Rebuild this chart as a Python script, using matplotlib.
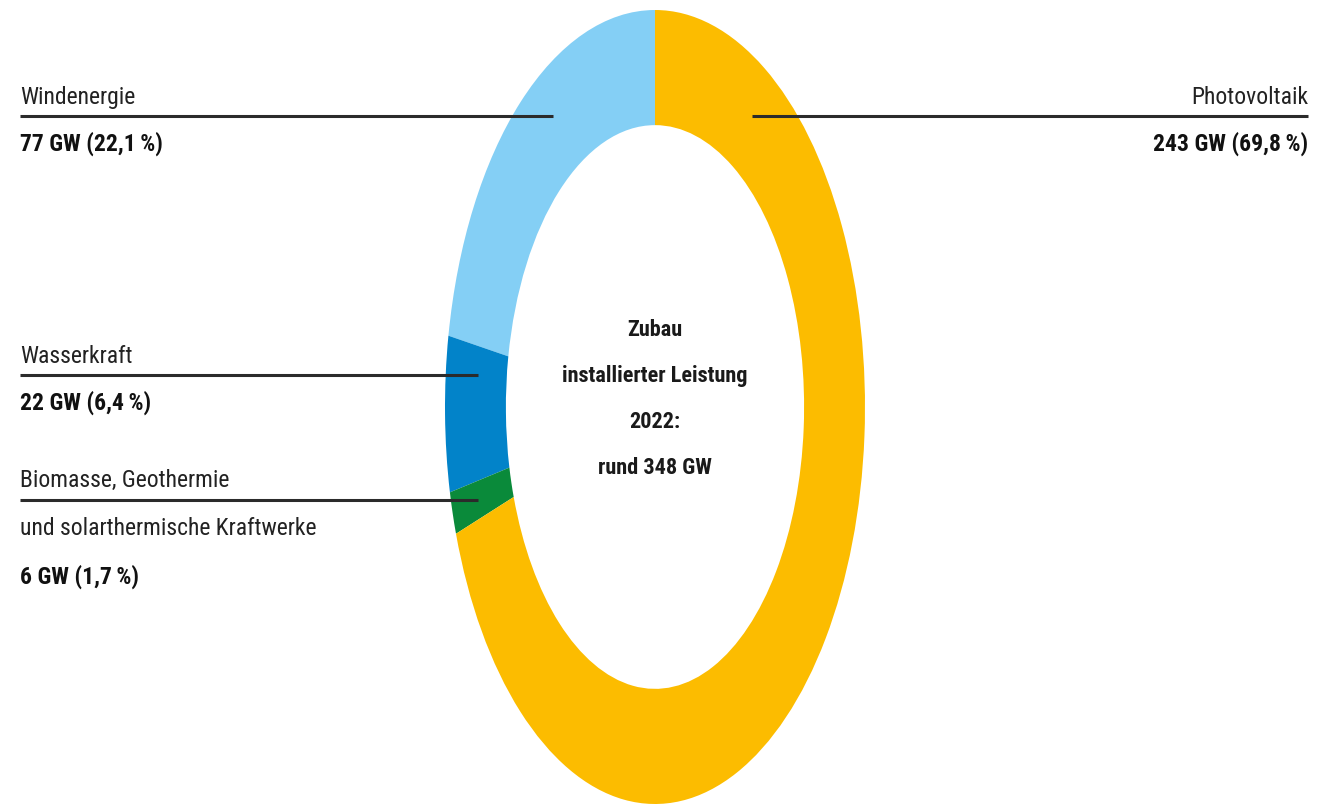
import matplotlib
matplotlib.use("Agg")
import matplotlib.pyplot as plt

# data
sources = ["Windenergie", "Wasserkraft",
           "Biomasse, Geothermie\nund solarthermische Kraftwerke", "Photovoltaik"]
gw = [77, 22, 6, 243]
shares = [22.1, 6.4, 1.7, 69.8]
colors = ["#84CFF5", "#0283C9", "#0A8A3A", "#FCBC00"]
total_text = "Zubau\ninstallierter Leistung\n2022:\nrund 348 GW"

plt.rcParams['font.family'] = ['Roboto Condensed', 'DejaVu Sans']

W, H = 1330, 805
fig = plt.figure(figsize=(W / 100, H / 100), dpi=100)

# donut (stretched vertically like the original)
ax = fig.add_axes([445 / W, 1 - 804 / H, 420 / W, 794 / H])
ax.pie(gw, colors=colors, startangle=90, counterclock=True,
       radius=1, wedgeprops=dict(width=0.29, linewidth=0))
ax.set_aspect('auto')
ax.set_xlim(-1, 1)
ax.set_ylim(-1, 1)
ax.axis('off')

ax.text(0, 0.02, total_text, ha='center', va='center', fontsize=16,
        fontweight='bold', linespacing=2.4, color='#1a1a1a')

# overlay in pixel coords for labels and leader lines
ov = fig.add_axes([0, 0, 1, 1], zorder=5)
ov.set_xlim(0, W)
ov.set_ylim(H, 0)
ov.axis('off')
ov.patch.set_alpha(0)


def label(i):
    txt = f"{gw[i]} GW ({shares[i]:.1f}\u2009%)".replace('.', ',')
    return txt


line_kw = dict(color='#2b2b2b', lw=2.2, solid_capstyle='butt')
fs = 17

# Windenergie
ov.plot([20, 553], [116, 116], **line_kw)
ov.text(20, 104, sources[0], ha='left', va='baseline', fontsize=fs, color='#222')
ov.text(20, 151, label(0), ha='left', va='baseline', fontsize=fs,
        fontweight='bold', color='#111')

# Photovoltaik
ov.plot([752, 1308], [116, 116], **line_kw)
ov.text(1308, 104, sources[3], ha='right', va='baseline', fontsize=fs, color='#222')
ov.text(1308, 151, label(3), ha='right', va='baseline', fontsize=fs,
        fontweight='bold', color='#111')

# Wasserkraft
ov.plot([20, 478], [375, 375], **line_kw)
ov.text(20, 363, sources[1], ha='left', va='baseline', fontsize=fs, color='#222')
ov.text(20, 410, label(1), ha='left', va='baseline', fontsize=fs,
        fontweight='bold', color='#111')

# Biomasse
bio1, bio2 = sources[2].split("\n")
ov.plot([20, 478], [500, 500], **line_kw)
ov.text(20, 487, bio1, ha='left', va='baseline', fontsize=fs, color='#222')
ov.text(20, 535, bio2, ha='left', va='baseline', fontsize=fs, color='#222')
ov.text(20, 584, label(2), ha='left', va='baseline', fontsize=fs,
        fontweight='bold', color='#111')

fig.savefig("out.png", dpi=100, facecolor='white')
